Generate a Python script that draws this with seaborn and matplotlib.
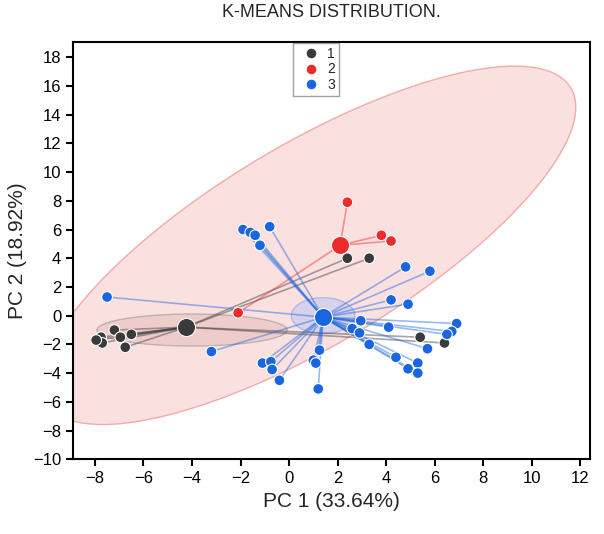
import numpy as np
import pandas as pd
import matplotlib
matplotlib.use("Agg")
import matplotlib.pyplot as plt
import seaborn as sns

sns.set_style("ticks")
plt.rcParams['font.family'] = ['Liberation Sans', 'DejaVu Sans']

# cluster points (PC1, PC2)
c1_x = [-7.75, -7.7, -7.2, -6.95, -6.5, -6.75, -7.95, 2.4, 3.3, 5.4, 6.4]
c1_y = [-1.5, -1.9, -1.0, -1.5, -1.3, -2.2, -1.7, 4.0, 4.0, -1.5, -1.9]
c2_x = [2.4, 3.8, 4.2, -2.1]
c2_y = [7.9, 5.6, 5.2, 0.2]
c3_x = [-7.5, -1.9, -1.6, -1.4, -1.2, -0.8, -3.2, -1.1, -0.75, -0.7, -0.4, 1.2, 1.25,
        1.0, 1.1, 2.95, 2.6, 2.9, 3.3, 4.8, 5.8, 4.2, 4.9, 4.1, 6.9, 6.7, 6.5, 5.7,
        4.4, 5.3, 4.9, 5.3]
c3_y = [1.3, 6.0, 5.8, 5.6, 4.9, 6.2, -2.5, -3.3, -3.2, -3.75, -4.5, -5.1, -2.4,
        -3.1, -3.3, -0.35, -0.9, -1.2, -2.0, 3.4, 3.1, 1.1, 0.8, -0.8, -0.55, -1.1,
        -1.3, -2.3, -2.9, -3.3, -3.7, -4.0]
centroids = {"1": (-4.25, -0.8), "2": (2.1, 4.9), "3": (1.4, -0.1)}
colors = {"1": "#3a3a3a", "2": "#ee2a2a", "3": "#1a66e0"}

df = pd.concat([
    pd.DataFrame({"PC1": c1_x, "PC2": c1_y, "cluster": "1"}),
    pd.DataFrame({"PC1": c2_x, "PC2": c2_y, "cluster": "2"}),
    pd.DataFrame({"PC1": c3_x, "PC2": c3_y, "cluster": "3"}),
])

fig, ax = plt.subplots(figsize=(6.04, 5.34), dpi=100)
fig.subplots_adjust(left=0.121, right=0.977, top=0.921, bottom=0.140)
ax.set_xlim(-8.9, 12.4)
ax.set_ylim(-10, 19.05)

# confidence ellipses, sized in pixels (24.5 px/unit in x, 14.36 px/unit in y)
sx, sy = 24.5, 14.36
t = np.linspace(0, 2 * np.pi, 300)
r = np.deg2rad(30.7)
px = 308 * np.cos(t) * np.cos(r) - 100 * np.sin(t) * np.sin(r)
py = 308 * np.cos(t) * np.sin(r) + 100 * np.sin(t) * np.cos(r)
ax.fill(0.8 + px / sx, 4.9 + py / sy, facecolor="#fbd9d9", edgecolor="#f09a9a", lw=1, alpha=0.8, zorder=0)
ax.fill(-4.0 + 96 * np.cos(t) / sx, -1.0 + 16 * np.sin(t) / sy, facecolor="#e8c0c0", edgecolor="#999999", lw=1, alpha=0.6, zorder=1)
ax.fill(1.4 + 32 * np.cos(t) / sx, 0.0 + 18 * np.sin(t) / sy, facecolor="#c9cdf0", edgecolor="#a0a8e8", lw=1, alpha=0.7, zorder=1)

for k, g in df.groupby("cluster"):
    cx, cy = centroids[k]
    for x, y in zip(g["PC1"], g["PC2"]):
        ax.plot([cx, x], [cy, y], color=colors[k], alpha=0.45, lw=1.2, zorder=2)
    ax.scatter(cx, cy, s=170, color=colors[k], edgecolor="white", lw=0.8, zorder=4)

sns.scatterplot(data=df, x="PC1", y="PC2", hue="cluster", palette=colors, s=60,
                edgecolor="white", linewidth=0.8, ax=ax, zorder=3)

ax.set_xticks(range(-8, 13, 2))
ax.set_yticks(range(-10, 19, 2))
ax.tick_params(labelsize=12, direction="out", length=5, width=1.5, colors="black")
for s in ax.spines.values():
    s.set_linewidth(1.5)
    s.set_color("black")
ax.set_xlabel("PC 1 (33.64%)", fontsize=15)
ax.set_ylabel("PC 2 (18.92%)", fontsize=15)
ax.set_title("K-MEANS DISTRIBUTION.", fontsize=13, pad=18)
ax.legend(title=None, loc="upper center", bbox_to_anchor=(0.47, 1.015), fontsize=10,
          handletextpad=0.2, borderpad=0.3, labelspacing=0.1, fancybox=False, edgecolor="#888888")
fig.savefig("out.png", dpi=100)
